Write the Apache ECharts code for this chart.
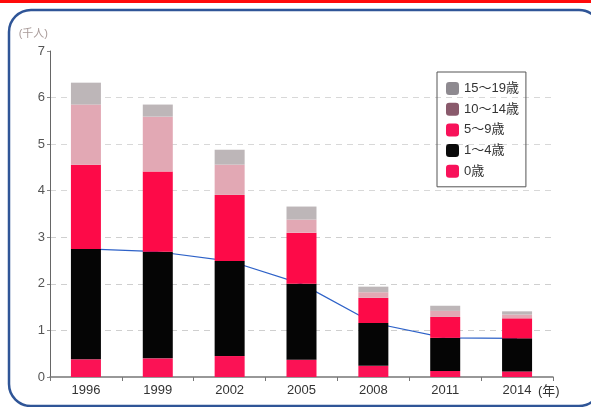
<!DOCTYPE html>
<html>
<head>
<meta charset="utf-8">
<script src="https://cdn.jsdelivr.net/npm/echarts@6/dist/echarts.min.js"></script>
<style>
  html, body { margin: 0; padding: 0; background: #fff; }
  #chart { width: 591px; height: 407px; }
</style>
</head>
<body>
<div id="chart"></div>
<script>
// Survey years
const years = ['1996', '1999', '2002', '2005', '2008', '2011', '2014'];

// Values per age group (thousand persons)
const age0 = [0.38, 0.40, 0.45, 0.37, 0.24, 0.13, 0.12];
const age1to4 = [2.37, 2.29, 2.04, 1.63, 0.92, 0.71, 0.71];
const age5to9 = [1.81, 1.72, 1.42, 1.10, 0.54, 0.45, 0.43];
const age10to14 = [1.29, 1.18, 0.65, 0.28, 0.12, 0.13, 0.08];
const age15to19 = [0.47, 0.26, 0.32, 0.28, 0.12, 0.11, 0.07];

// Y axis ticks
const yTicks = [0, 1, 2, 3, 4, 5, 6, 7];

// Under-5 total, traced as a line across the bars
const under5 = age0.map((v, i) => +(v + age1to4[i]).toFixed(2));

const FONT = '"Liberation Sans", "Noto Sans CJK JP", sans-serif';

const chart = echarts.init(document.getElementById('chart'), null, { renderer: 'canvas' });

const barBase = { type: 'bar', stack: 'total', barWidth: 30, z: 3 };

chart.setOption({
  backgroundColor: '#ffffff',
  animation: false,
  textStyle: { fontFamily: FONT },
  graphic: [
    { type: 'rect', shape: { x: 0, y: 0, width: 591, height: 3 }, style: { fill: '#ff0a0a' }, silent: true },
    {
      type: 'rect',
      shape: { x: 9, y: 10, width: 592, height: 396, r: 22 },
      style: { fill: 'none', stroke: '#2f5597', lineWidth: 2.5 },
      silent: true
    }
  ],
  grid: { left: 50, right: 38, top: 51, bottom: 30 },
  legend: {
    orient: 'vertical',
    left: 437,
    top: 72,
    padding: [10, 7, 9, 9],
    itemWidth: 13,
    itemHeight: 13,
    itemGap: 7.7,
    borderColor: '#555',
    borderWidth: 1,
    textStyle: { fontSize: 13, color: '#333', fontFamily: FONT },
    data: [
      { name: '15～19歳', itemStyle: { color: '#8e8a90' } },
      { name: '10～14歳', itemStyle: { color: '#8a5a6c' } },
      { name: '5～9歳', itemStyle: { color: '#f8125a' } },
      { name: '1～4歳', itemStyle: { color: '#0a0a0a' } },
      { name: '0歳', itemStyle: { color: '#f8125a' } }
    ]
  },
  xAxis: {
    type: 'category',
    data: years,
    boundaryGap: true,
    name: '(年)',
    nameLocation: 'end',
    nameGap: -15,
    nameTextStyle: { fontSize: 13, color: '#333', verticalAlign: 'top', padding: [8, 0, 0, 0] },
    axisLine: { lineStyle: { color: '#777', width: 1.5 } },
    axisTick: { show: true, length: 4, lineStyle: { color: '#777' } },
    axisLabel: { fontSize: 13, color: '#333', margin: 7 }
  },
  yAxis: {
    type: 'value',
    min: yTicks[0],
    max: yTicks[yTicks.length - 1],
    interval: 1,
    name: '(千人)',
    nameLocation: 'end',
    nameGap: 12,
    nameTextStyle: { fontSize: 11, color: '#a89a98', align: 'right', padding: [0, 2, 0, 0] },
    axisLine: { show: true, lineStyle: { color: '#666', width: 1 } },
    axisTick: { show: true, length: 3, lineStyle: { color: '#888' } },
    axisLabel: { fontSize: 13, color: '#555', margin: 5 },
    splitLine: {
      show: true,
      lineStyle: {
        color: ['transparent', '#cfcfcf', '#cfcfcf', '#cfcfcf', '#d8d8d8', '#d8d8d8', '#d8d8d8', 'transparent'],
        type: [6, 5],
        width: 1
      }
    }
  },
  series: [
    { ...barBase, name: '0歳', data: age0, itemStyle: { color: '#fb1255' } },
    { ...barBase, name: '1～4歳', data: age1to4, itemStyle: { color: '#050505' } },
    { ...barBase, name: '5～9歳', data: age5to9, itemStyle: { color: '#fd0a48' } },
    { ...barBase, name: '10～14歳', data: age10to14, itemStyle: { color: '#e2a8b4' } },
    { ...barBase, name: '15～19歳', data: age15to19, itemStyle: { color: '#bdb6b8' } },
    {
      type: 'line',
      name: 'under5',
      data: under5,
      z: 2,
      symbol: 'none',
      lineStyle: { color: '#2e62c8', width: 1.2 },
      silent: true
    }
  ]
});
</script>
</body>
</html>
